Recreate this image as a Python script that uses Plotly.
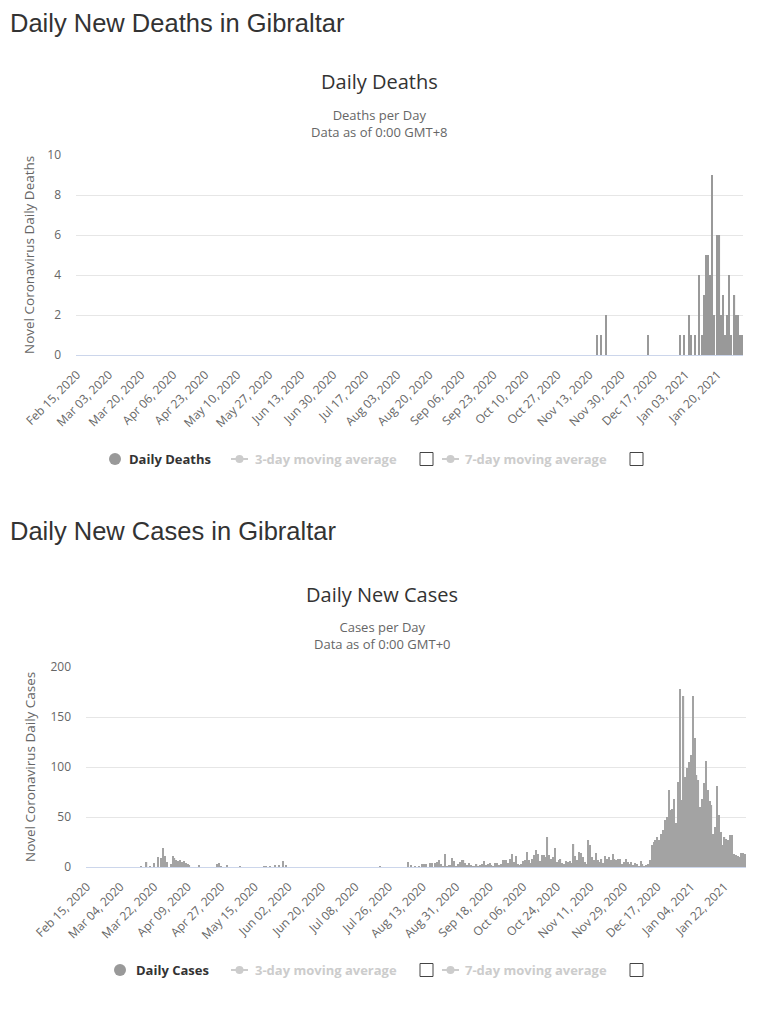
import pandas as pd
import plotly.graph_objects as go

# daily figures for Gibraltar, Feb 15 2020 - Feb 02 2021
dates = pd.date_range("2020-02-15", "2021-02-02", freq="D")
labels = [d.strftime("%b %d, %Y") for d in dates]

# ---- daily deaths ----
deaths_feb_oct = [0] * 260          # Feb 15 - Oct 31: none
deaths_nov = [0, 0, 0, 0, 0, 0, 0, 0, 0, 0, 0, 0, 0, 0, 0, 0, 1, 0, 1, 0,
              0, 2, 0, 0, 0, 0, 0, 0, 0, 0]
deaths_dec = [0, 0, 0, 0, 0, 0, 0, 0, 0, 0, 0, 0, 0, 1, 0, 0, 0, 0, 0, 0,
              0, 0, 0, 0, 0, 0, 0, 0, 0, 0, 1]
deaths_jan = [0, 1, 0, 0, 2, 1, 0, 1, 0, 4, 0, 1, 3, 5, 5, 4, 9, 2, 0, 6,
              6, 2, 3, 1, 2, 4, 1, 0, 3, 2, 2]
deaths_feb = [1, 1]

# ---- daily new cases ----
cases_feb = [0] * 15
cases_mar = [0, 0, 0, 0, 0, 0, 0, 0, 0, 0, 0, 0, 0, 0, 1, 0, 0, 5, 0, 1,
             0, 4, 0, 10, 0, 9, 19, 11, 5, 0, 3]
cases_apr = [11, 9, 7, 6, 7, 5, 6, 4, 3, 2, 0, 0, 0, 0, 2, 0, 0, 0, 0, 0,
             0, 0, 0, 0, 3, 4, 1, 0, 0, 2]
cases_may = [0, 0, 0, 0, 0, 0, 1, 0, 0, 0, 0, 0, 0, 0, 0, 0, 0, 0, 0, 1,
             1, 0, 1, 0, 0, 2, 0, 2, 0, 6, 0]
cases_jun = [2, 0, 0, 0, 0, 0, 0, 0, 0, 0, 0, 0, 0, 0, 0, 0, 0, 0, 0, 0,
             0, 0, 0, 0, 0, 0, 0, 0, 0, 0]
cases_jul = [0, 0, 0, 0, 0, 0, 0, 0, 0, 0, 0, 0, 0, 0, 0, 0, 0, 0, 0, 0,
             1, 0, 0, 0, 0, 0, 0, 0, 0, 0, 0]
cases_aug = [0, 0, 0, 0, 5, 0, 2, 0, 1, 0, 1, 0, 3, 3, 3, 0, 4, 4, 0, 4,
             5, 7, 3, 1, 13, 1, 2, 2, 9, 6, 1]
cases_sep = [3, 5, 7, 7, 4, 2, 4, 2, 1, 1, 3, 1, 2, 3, 6, 2, 3, 4, 2, 1,
             4, 4, 2, 3, 7, 7, 7, 4, 8, 13]
cases_oct = [5, 11, 3, 2, 3, 6, 7, 15, 7, 4, 8, 12, 17, 13, 6, 12, 12, 10, 30, 12,
             8, 10, 19, 5, 7, 8, 4, 3, 6, 5, 6]
cases_nov = [4, 23, 11, 7, 15, 14, 10, 5, 3, 27, 22, 10, 7, 14, 7, 5, 8, 4, 11, 8,
             10, 7, 13, 8, 7, 8, 8, 3, 5, 8]
cases_dec = [5, 3, 5, 2, 4, 3, 1, 6, 3, 1, 2, 3, 7, 22, 25, 27, 30, 27, 33, 37,
             47, 50, 77, 57, 58, 68, 44, 85, 178, 67, 171]
cases_jan = [90, 99, 105, 112, 171, 129, 92, 87, 60, 68, 84, 106, 77, 66, 62, 33, 40, 81, 52, 35,
             22, 30, 28, 27, 32, 32, 13, 12, 11, 10, 14]
cases_feb21 = [14, 13]

deaths = deaths_feb_oct + deaths_nov + deaths_dec + deaths_jan + deaths_feb
cases = (cases_feb + cases_mar + cases_apr + cases_may + cases_jun + cases_jul
         + cases_aug + cases_sep + cases_oct + cases_nov + cases_dec + cases_jan
         + cases_feb21)

deaths_ticks = labels[::17]
cases_ticks = labels[::18]

#-----------------------------------
W, H = 743, 1008
OFF = 8  # default body margin of the page


def fx(x):
    return (x - OFF) / W


def fy(y):
    return 1 - (y - OFF) / H


FONT = "Open Sans"
GREY = "#666666"

fig = go.Figure()
fig.add_trace(go.Bar(x=labels, y=deaths, marker_color="#999999",
                     marker_line_width=0, xaxis="x", yaxis="y",
                     name="Daily Deaths"))
fig.add_trace(go.Bar(x=labels, y=cases, marker_color="#a3a3a3",
                     marker_line_width=0, xaxis="x2", yaxis="y2",
                     name="Daily Cases"))

xcommon = dict(type="category", tickmode="array", tickangle=-45,
               tickfont=dict(family=FONT, size=12, color=GREY),
               showgrid=False, showline=True, linecolor="#ccd6eb",
               ticks="", ticklabelstandoff=7, fixedrange=True,
               automargin=False)
ycommon = dict(gridcolor="#e6e6e6", zeroline=False, showline=False,
               tickfont=dict(family=FONT, size=12, color=GREY),
               ticklabelstandoff=14, fixedrange=True, automargin=False)

fig.update_layout(
    width=W, height=H,
    margin=dict(l=0, r=0, t=0, b=0, autoexpand=False),
    paper_bgcolor="white", plot_bgcolor="white",
    showlegend=False, bargap=0.35,
    xaxis=dict(xcommon, domain=[fx(76), fx(743)], anchor="y",
               range=[-0.5, len(labels) - 0.5],
               tickvals=deaths_ticks, ticktext=deaths_ticks),
    yaxis=dict(ycommon, domain=[fy(355), fy(155)], anchor="x",
               range=[0, 10], dtick=2),
    xaxis2=dict(xcommon, domain=[fx(86), fx(746)], anchor="y2",
                range=[-0.5, len(labels) - 0.5],
                tickvals=cases_ticks, ticktext=cases_ticks),
    yaxis2=dict(ycommon, domain=[fy(867), fy(667)], anchor="x2",
                range=[0, 200], dtick=50),
)

ann = []


def text(s, x, y, size=12, color=GREY, anchor="center", family=FONT, angle=0):
    ann.append(dict(text=s, x=fx(x), y=fy(y), xref="paper", yref="paper",
                    xanchor=anchor, yanchor="middle", showarrow=False,
                    textangle=angle,
                    font=dict(family=family, size=size, color=color)))


# page headings
text("Daily New Deaths in Gibraltar", 8, 23, 25.5, "#333333", "left", "Liberation Sans")
text("Daily New Cases in Gibraltar", 8, 531, 25.5, "#333333", "left", "Liberation Sans")

# chart titles
text("Daily Deaths", 379, 82, 20, "#333333")
text("Deaths per Day<br>Data as of 0:00 GMT+8", 379, 123, 13)
text("Daily New Cases", 382, 594, 20, "#333333")
text("Cases per Day<br>Data as of 0:00 GMT+0", 382, 635, 13)

# y axis titles
text("Novel Coronavirus Daily Deaths", 29, 255, 13.5, angle=-90)
text("Novel Coronavirus Daily Cases", 30, 767, 13.5, angle=-90)

shapes = []


def dot(cx, cy, r, color):
    shapes.append(dict(type="circle", xref="paper", yref="paper",
                       x0=fx(cx - r), x1=fx(cx + r), y0=fy(cy + r), y1=fy(cy - r),
                       fillcolor=color, line_width=0))


def line_marker(x0, x1, cy, color):
    shapes.append(dict(type="line", xref="paper", yref="paper",
                       x0=fx(x0), x1=fx(x1), y0=fy(cy), y1=fy(cy),
                       line=dict(color=color, width=2)))
    dot((x0 + x1) / 2, cy, 4, color)


def checkbox(x0, cy):
    shapes.append(dict(type="rect", xref="paper", yref="paper",
                       x0=fx(x0), x1=fx(x0 + 13), y0=fy(cy + 6.5), y1=fy(cy - 6.5),
                       fillcolor="white", line=dict(color="#444444", width=1)))


# legends
for ly, cx, name, tx in [(459, 115, "Daily Deaths", 127), (970, 120, "Daily Cases", 134)]:
    dot(cx, ly, 6, "#999999")
    text("<b>%s</b>" % name, tx, ly, 13, "#333333", "left")
    line_marker(231, 248, ly, "#cccccc")
    text("<b>3-day moving average</b>", 253, ly, 13, "#cccccc", "left")
    checkbox(420, ly)
    line_marker(442, 459, ly, "#cccccc")
    text("<b>7-day moving average</b>", 463, ly, 13, "#cccccc", "left")
    checkbox(630, ly)

fig.update_layout(annotations=ann, shapes=shapes)

fig.write_html("out.html")
